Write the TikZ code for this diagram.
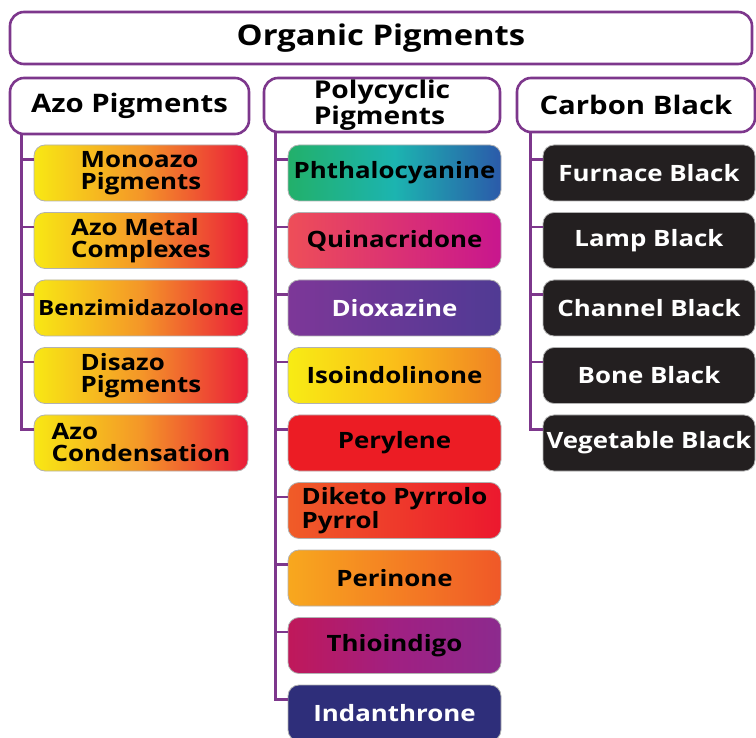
\documentclass[tikz,border=0pt]{standalone}
\usepackage{fontspec}
\setmainfont{Open Sans}[FakeStretch=1.15]
\usetikzlibrary{positioning}
\definecolor{purp}{RGB}{125,55,140}
\definecolor{azoY}{RGB}{248,232,20}
\definecolor{azoO}{RGB}{244,150,40}
\definecolor{azoR}{RGB}{234,28,58}
\definecolor{cbk}{RGB}{35,31,32}

\begin{document}
\begin{tikzpicture}[
  x=1pt, y=-1pt,
  head/.style={draw=purp, line width=2.6pt, rounded corners=14pt, fill=white, inner sep=0pt, align=left, font=\bfseries\fontsize{25.5}{23}\selectfont},
  leaf/.style={draw=gray!60, line width=0.8pt, rounded corners=11pt, minimum height=56pt, inner sep=0pt, align=left, font=\bfseries\fontsize{22.5}{22}\selectfont},
  azo/.style={leaf, minimum width=214pt, left color=azoY, right color=azoR, middle color=azoO},
  poly/.style={leaf, minimum width=213pt},
  cb/.style={leaf, minimum width=212pt, fill=cbk, text=white},
  link/.style={draw=purp, line width=2.6pt}
  ]
  \useasboundingbox (0,0) rectangle (756,738);
  % headers
  \node[head, minimum width=742pt, minimum height=52pt, font=\bfseries\fontsize{28.5}{28}\selectfont] (org) at (381,38) {Organic Pigments};
  \node[head, minimum width=239pt, minimum height=56pt] (azohd) at (129.5,106) {Azo Pigments};
  \node[head, minimum width=236pt, minimum height=54pt, font=\bfseries\fontsize{24.5}{22}\selectfont] (polyhd) at (382,105) {Polycyclic\\Pigments};
  \node[head, minimum width=238pt, minimum height=54pt] (cbhd) at (636,105) {Carbon Black};
  % azo
  \node[azo] (mono) at (141,173) {Monoazo\\Pigments};
  \node[azo] (metal) at (141,240.5) {Azo Metal\\Complexes};
  \node[azo, font=\bfseries\fontsize{21}{22}\selectfont] (benz) at (141,308) {Benzimidazolone};
  \node[azo] (disazo) at (141,375.5) {Disazo\\Pigments};
  \node[azo] (cond) at (141,443) {Azo\\Condensation};
  % polycyclic
  \node[poly, left color={rgb,255:red,34;green,176;blue,106}, right color={rgb,255:red,43;green,90;blue,170}, middle color={rgb,255:red,28;green,180;blue,176}] (phth) at (394.5,173) {Phthalocyanine};
  \node[poly, left color={rgb,255:red,238;green,78;blue,88}, right color={rgb,255:red,200;green,22;blue,142}] (quin) at (394.5,240.5) {Quinacridone};
  \node[poly, left color={rgb,255:red,125;green,55;blue,152}, right color={rgb,255:red,80;green,58;blue,148}, text=white] (diox) at (394.5,308) {Dioxazine};
  \node[poly, left color={rgb,255:red,248;green,236;blue,20}, right color={rgb,255:red,240;green,130;blue,36}, middle color={rgb,255:red,250;green,190;blue,25}] (isoi) at (394.5,375.5) {Isoindolinone};
  \node[poly, fill={rgb,255:red,236;green,28;blue,36}] (pery) at (394.5,443) {Perylene};
  \node[poly, left color={rgb,255:red,240;green,92;blue,40}, right color={rgb,255:red,236;green,24;blue,46}] (dpp) at (394.5,510.5) {Diketo Pyrrolo\\Pyrrol};
  \node[poly, left color={rgb,255:red,248;green,168;blue,30}, right color={rgb,255:red,240;green,88;blue,40}] (peri) at (394.5,578) {Perinone};
  \node[poly, left color={rgb,255:red,192;green,24;blue,90}, right color={rgb,255:red,140;green,42;blue,142}, middle color={rgb,255:red,160;green,32;blue,130}] (thio) at (394.5,645.5) {Thioindigo};
  \node[poly, fill={rgb,255:red,46;green,46;blue,122}, text=white] (inda) at (394.5,713) {Indanthrone};
  % carbon black
  \node[cb] (furn) at (649,173) {Furnace Black};
  \node[cb] (lamp) at (649,240.5) {Lamp Black};
  \node[cb] (chan) at (649,308) {Channel Black};
  \node[cb] (bone) at (649,375.5) {Bone Black};
  \node[cb] (veg) at (649,443) {Vegetable Black};
  % links
  \draw[link] ([xshift=13pt]azohd.south west) |- ([yshift=-15pt]mono.north west);
  \draw[link] ([xshift=13pt]azohd.south west) |- ([yshift=-15pt]metal.north west);
  \draw[link] ([xshift=13pt]azohd.south west) |- ([yshift=-15pt]benz.north west);
  \draw[link] ([xshift=13pt]azohd.south west) |- ([yshift=-15pt]disazo.north west);
  \draw[link] ([xshift=13pt]azohd.south west) |- ([yshift=-15pt]cond.north west);
  \draw[link] ([xshift=13pt]polyhd.south west) |- ([yshift=-15pt]phth.north west);
  \draw[link] ([xshift=13pt]polyhd.south west) |- ([yshift=-15pt]quin.north west);
  \draw[link] ([xshift=13pt]polyhd.south west) |- ([yshift=-15pt]diox.north west);
  \draw[link] ([xshift=13pt]polyhd.south west) |- ([yshift=-15pt]isoi.north west);
  \draw[link] ([xshift=13pt]polyhd.south west) |- ([yshift=-15pt]pery.north west);
  \draw[link] ([xshift=13pt]polyhd.south west) |- ([yshift=-15pt]dpp.north west);
  \draw[link] ([xshift=13pt]polyhd.south west) |- ([yshift=-15pt]peri.north west);
  \draw[link] ([xshift=13pt]polyhd.south west) |- ([yshift=-15pt]thio.north west);
  \draw[link] ([xshift=13pt]polyhd.south west) |- ([yshift=-15pt]inda.north west);
  \draw[link] ([xshift=15pt]cbhd.south west) |- ([yshift=-15pt]furn.north west);
  \draw[link] ([xshift=15pt]cbhd.south west) |- ([yshift=-15pt]lamp.north west);
  \draw[link] ([xshift=15pt]cbhd.south west) |- ([yshift=-15pt]chan.north west);
  \draw[link] ([xshift=15pt]cbhd.south west) |- ([yshift=-15pt]bone.north west);
  \draw[link] ([xshift=15pt]cbhd.south west) |- ([yshift=-15pt]veg.north west);
\end{tikzpicture}
\end{document}
